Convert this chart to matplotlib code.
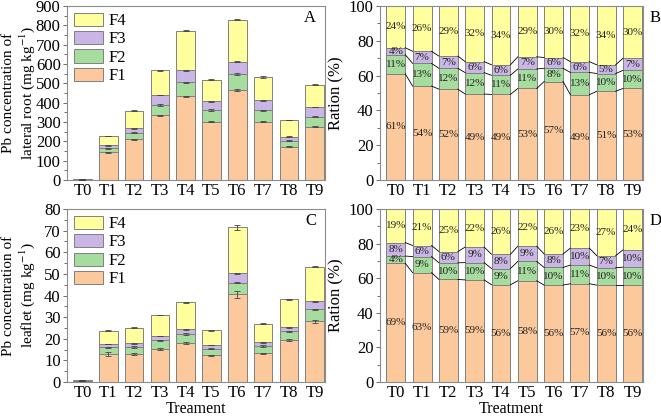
import matplotlib
matplotlib.use("Agg")
import matplotlib.pyplot as plt
from matplotlib.ticker import MultipleLocator
import numpy as np

plt.rcParams['font.family'] = ['Liberation Serif', 'DejaVu Serif']
plt.rcParams['mathtext.fontset'] = 'stix'

treat = ['T0', 'T1', 'T2', 'T3', 'T4', 'T5', 'T6', 'T7', 'T8', 'T9']
fracs = ['F1', 'F2', 'F3', 'F4']
colors = ['#fcc99c', '#a6dc9e', '#c9b6e4', '#ffff9e']

# A: lateral root, Pb in each fraction (mg/kg)
root_f1 = [2.0, 143, 210, 335, 432, 302, 465, 302, 172, 276]
root_f2 = [0.4, 20, 35, 53, 73, 60, 83, 58, 31, 52]
root_f3 = [0.2, 17, 23, 52, 63, 46, 64, 53, 22, 50]
root_f4 = [0.8, 48, 90, 128, 204, 110, 218, 120, 85, 115]
root_e1 = [0, 3, 3, 3, 4, 3, 5, 3, 3, 3]
root_e2 = [0, 2, 2, 3, 3, 3, 3, 2, 2, 2]
root_e3 = [0, 2, 2, 2, 3, 2, 3, 2, 2, 2]
root_e4 = [0, 2, 2, 2, 3, 2, 3, 4, 2, 3]

# B: lateral root ratio (%)
root_r1 = [61.0, 54.0, 52.2, 49.4, 49.2, 52.6, 56.6, 49.0, 51.0, 52.6]
root_r2 = [11.0, 13.0, 12.0, 12.3, 11.0, 11.2, 7.6, 12.8, 10.2, 10.4]
root_r3 = [4.0, 7.0, 7.0, 6.3, 6.0, 7.0, 6.2, 6.2, 5.0, 7.0]
root_r4 = [24.0, 26.0, 28.8, 32.0, 33.8, 29.2, 29.6, 32.0, 33.8, 30.0]

# C: leaflet, Pb in each fraction (mg/kg)
leaf_f1 = [0.55, 12.8, 13.0, 15.2, 18.0, 12.4, 40.5, 13.2, 19.4, 28.0]
leaf_f2 = [0.03, 3.2, 3.2, 4.0, 4.2, 2.9, 5.5, 3.4, 4.0, 5.6]
leaf_f3 = [0.06, 1.6, 1.8, 2.1, 2.2, 1.8, 4.2, 1.8, 2.0, 3.8]
leaf_f4 = [0.16, 6.2, 7.1, 9.7, 12.4, 6.9, 21.3, 8.5, 12.8, 15.9]
leaf_e1 = [0, 1.0, 0.3, 0.5, 0.6, 0.3, 1.5, 0.3, 0.4, 0.8]
leaf_e2 = [0, 0.3, 0.3, 0.3, 0.3, 0.2, 0.4, 0.3, 0.3, 0.3]
leaf_e3 = [0, 0.2, 0.2, 0.2, 0.2, 0.2, 0.3, 0.2, 0.2, 0.2]
leaf_e4 = [0, 0.2, 0.2, 0.2, 0.3, 0.2, 1.0, 0.2, 0.2, 0.2]

# D: leaflet ratio (%)
leaf_r1 = [68.6, 63.2, 59.3, 59.0, 56.2, 58.5, 56.0, 56.8, 56.0, 56.0]
leaf_r2 = [4.2, 9.3, 9.6, 10.0, 9.4, 11.2, 10.2, 10.8, 10.0, 10.4]
leaf_r3 = [7.8, 6.4, 6.5, 9.0, 8.2, 8.8, 7.8, 9.8, 7.0, 10.0]
leaf_r4 = [19.4, 21.1, 24.6, 22.0, 26.2, 21.5, 26.0, 22.6, 27.0, 23.6]

W = 0.72
EDGE = '#808080'
SPINE = '#8c8c8c'
x = np.arange(len(treat))


def style_axis(ax, ymax, major, minor):
    ax.set_ylim(0, ymax)
    ax.set_xlim(-0.6, 9.4)
    ax.set_xticks(x)
    ax.set_xticklabels(treat)
    ax.yaxis.set_major_locator(MultipleLocator(major))
    ax.yaxis.set_minor_locator(MultipleLocator(minor))
    ax.tick_params(axis='x', length=0, labelsize=12, pad=2)
    ax.tick_params(axis='y', which='major', length=3, width=0.6, color='#555555', labelsize=12,
                   direction='out', pad=1.5)
    ax.tick_params(axis='y', which='minor', length=2, width=0.6, color='#555555', direction='out')
    for s in ax.spines.values():
        s.set_color(SPINE)
        s.set_linewidth(0.8)


def stacked_conc(ax, parts, errs, ymax, major, minor, ylab1, ylab2, letter):
    bottom = np.zeros(len(treat))
    for vals, err, c, lab in zip(parts, errs, colors, fracs):
        vals = np.array(vals)
        ax.bar(x, vals, W, bottom=bottom, color=c, edgecolor=EDGE, linewidth=0.7, label=lab, zorder=2)
        ax.errorbar(x, bottom + vals, yerr=err, fmt='none', ecolor='#444444', elinewidth=0.6,
                    capsize=2.5, capthick=0.6, zorder=3)
        bottom = bottom + vals
    style_axis(ax, ymax, major, minor)
    # two-line y label, one text per line
    ax.text(-0.225, 0.5, ylab1, transform=ax.transAxes, rotation=90, ha='center', va='center',
            fontsize=11)
    ax.text(-0.156, 0.5, ylab2, transform=ax.transAxes, rotation=90, ha='center', va='center',
            fontsize=11)
    h, l = ax.get_legend_handles_labels()
    ax.legend(h[::-1], l[::-1], loc='upper left', bbox_to_anchor=(0.0, 1.0), frameon=False,
              fontsize=12, handlelength=1.75, handleheight=0.85, labelspacing=0.12,
              borderpad=0.2, borderaxespad=0.2, handletextpad=0.35)
    ax.text(0.965, 0.93, letter, transform=ax.transAxes, ha='right', va='center', fontsize=12)


def stacked_ratio(ax, parts, letter):
    bottom = np.zeros(len(treat))
    for vals, c in zip(parts, colors):
        vals = np.array(vals)
        ax.bar(x, vals, W, bottom=bottom, color=c, edgecolor=EDGE, linewidth=0.7, zorder=2)
        for i in range(len(treat)):
            ax.text(x[i], bottom[i] + vals[i] / 2, f'{vals[i]:.0f}%', ha='center', va='center',
                    fontsize=8, color='#222222', zorder=4)
        top = bottom + vals
        if c != colors[-1]:
            for i in range(len(treat) - 1):
                ax.plot([x[i] + W / 2, x[i + 1] - W / 2], [top[i], top[i + 1]], color='black',
                        linewidth=0.6, zorder=3)
        bottom = top
    style_axis(ax, 100, 20, 10)
    ax.set_ylabel('Ration (%)', fontsize=12, labelpad=3)
    ax.text(1.025, 0.93, letter, transform=ax.transAxes, ha='left', va='center', fontsize=12)


fig = plt.figure(figsize=(6.61, 4.17), dpi=100)
W_FIG, H_FIG = 661, 417


def add_ax(l, r, t, b):
    return fig.add_axes([l / W_FIG, 1 - b / H_FIG, (r - l) / W_FIG, (b - t) / H_FIG])


axA = add_ax(67, 325, 6, 180)
axB = add_ax(380, 643, 6, 180)
axC = add_ax(67, 325, 209, 382)
axD = add_ax(380, 643, 209, 382)

stacked_conc(axA, [root_f1, root_f2, root_f3, root_f4], [root_e1, root_e2, root_e3, root_e4],
             900, 100, 50, 'Pb concentration of', 'lateral root (mg kg$^{-1}$)', 'A')
stacked_ratio(axB, [root_r1, root_r2, root_r3, root_r4], 'B')
stacked_conc(axC, [leaf_f1, leaf_f2, leaf_f3, leaf_f4], [leaf_e1, leaf_e2, leaf_e3, leaf_e4],
             80, 10, 5, 'Pb concentration of', 'leaflet (mg kg$^{-1}$)', 'C')
stacked_ratio(axD, [leaf_r1, leaf_r2, leaf_r3, leaf_r4], 'D')

axC.set_xlabel('Treament', fontsize=11.5, labelpad=0)
axD.set_xlabel('Treatment', fontsize=11.5, labelpad=0)

fig.savefig('out.png', dpi=100)
